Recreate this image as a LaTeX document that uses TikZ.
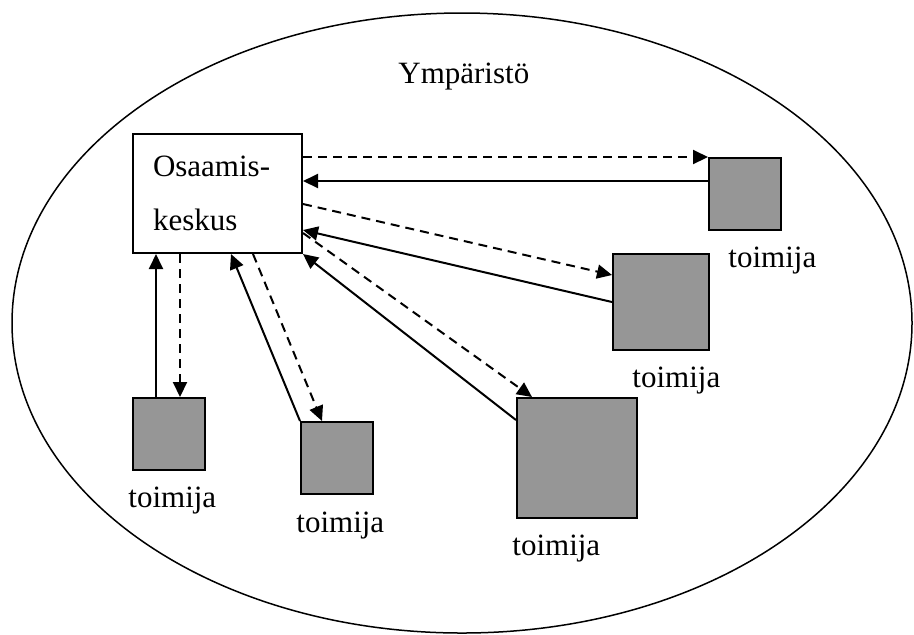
\documentclass[tikz,border=0pt]{standalone}
\usepackage{fontspec}
\setmainfont{Liberation Serif}
\usetikzlibrary{arrows.meta, shapes.geometric, positioning}
\definecolor{boxgray}{RGB}{150,150,150}

\begin{document}
\begin{tikzpicture}[x=0.5pt, y=-0.5pt,
    every node/.style={font=\fontsize{15.5}{27}\selectfont},
    toimija/.style={draw, line width=1pt, fill=boxgray, inner sep=0pt, anchor=north west},
    nimi/.style={inner sep=0pt, anchor=base west},
    sld/.style={line width=1pt, -{Triangle[length=7.5pt, width=7pt]}},
    dsh/.style={sld, dash pattern=on 4.5pt off 3pt}]
    \useasboundingbox (0,0) rectangle (914,634);

    \node[draw, ellipse, line width=0.75pt, minimum width=450pt, minimum height=310pt, inner sep=0pt] (ymp) at (462,323) {};
    \node[nimi] (ympnimi) at (398,83) {Ympäristö};

    \node[draw, line width=1pt, fill=white, anchor=north west, minimum width=84.5pt, minimum height=59.5pt,
          text width=64.5pt, inner xsep=10pt, inner ysep=0pt, align=left] (ok) at (132,133) {Osaamis-\\keskus};

    \node[toimija, minimum size=36pt] (t1) at (708,157) {};
    \node[toimija, minimum size=48pt] (t2) at (612,253) {};
    \node[toimija, minimum size=60pt] (t3) at (516,397) {};
    \node[toimija, minimum size=36pt] (t4) at (300,421) {};
    \node[toimija, minimum size=36pt] (t5) at (132,397) {};

    \node[nimi] (n1) at (728,267) {toimija};
    \node[nimi] (n2) at (632,387) {toimija};
    \node[nimi] (n3) at (512,555) {toimija};
    \node[nimi] (n4) at (296,532) {toimija};
    \node[nimi] (n5) at (128,507) {toimija};

    \draw[dsh] (ok.east |- t1.north west) -- (t1.north west);
    \draw[sld] ([yshift=-12pt]t1.north west) -- ([yshift=-24pt]ok.north east);
    \draw[dsh] ([yshift=-35.5pt]ok.north east) -- ([yshift=-11pt]t2.north west);
    \draw[sld] (t2.west) -- ([yshift=-48.5pt]ok.north east);
    \draw[dsh] ([yshift=-50pt]ok.north east) -- ([xshift=8pt]t3.north west);
    \draw[sld] ([yshift=-11.5pt]t3.north west) -- (ok.south east);
    \draw[sld] (t4.north west) -- ([xshift=49.5pt]ok.south west);
    \draw[dsh] ([xshift=60.5pt]ok.south west) -- ([xshift=11pt]t4.north west);
    \draw[sld] ([xshift=12pt]t5.north west) -- ([xshift=12pt]ok.south west);
    \draw[dsh] ([xshift=24pt]ok.south west) -- ([xshift=24pt]t5.north west);
\end{tikzpicture}
\end{document}
